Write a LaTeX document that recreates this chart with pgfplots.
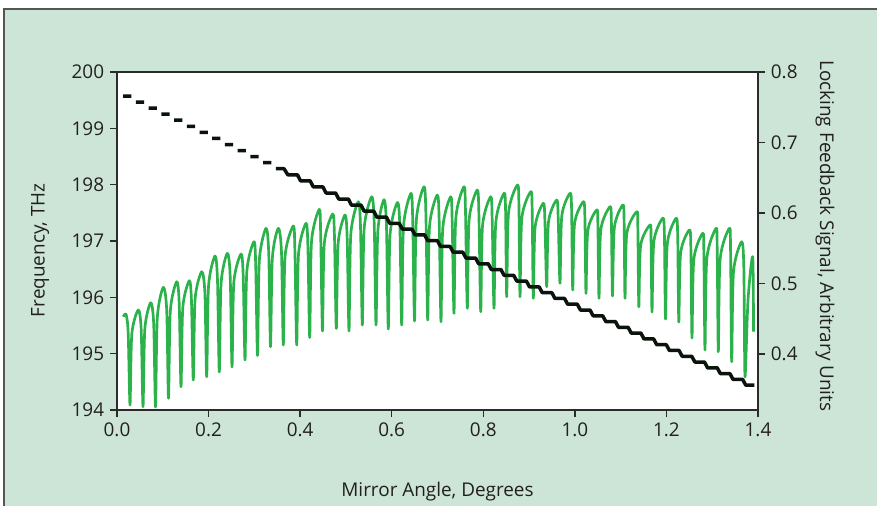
\documentclass[border=0pt]{standalone}
\usepackage{pgfplots}
\pgfplotsset{compat=1.18}
\usepackage{fontspec}
\setmainfont{Open Sans}
\definecolor{panelbg}{HTML}{CCE5D6}
\definecolor{sig}{HTML}{2CB24A}
\definecolor{axgray}{HTML}{2B2B2B}
\definecolor{txt}{HTML}{231F20}
\definecolor{stepblk}{HTML}{0A140C}
\newcommand{\lblfont}{\fontsize{11.35}{13}\selectfont}
\begin{document}
\begin{tikzpicture}
\useasboundingbox (0,0) rectangle (526.2pt,303.6pt);
\fill[panelbg] (2.4pt,0) rectangle (526.2pt,298.2pt);
\draw[axgray!80, line width=0.8pt] (2.4pt,0) -- (2.4pt,298.2pt) -- (526.2pt,298.2pt);
% ---- right axis: locking feedback signal (green) ----
\begin{axis}[
  at={(70.2pt,57.6pt)}, anchor=south west, scale only axis,
  width=384.6pt, height=202.8pt,
  xmin=0, xmax=1.4, ymin=0.3206, ymax=0.8,
  axis background/.style={fill=white},
  axis y line*=right, axis x line=none,
  axis line style={draw=axgray, line width=0.9pt, -},
  tick style={draw=axgray, line width=0.9pt},
  tick align=outside, major tick length=4.2pt,
  ytick={0.4,0.5,0.6,0.7,0.8},
  yticklabels={0.4,0.5,0.6,0.7,0.8},
  ticklabel style={font=\lblfont, text=txt},
  ylabel={Locking Feedback Signal, Arbitrary Units},
  ylabel style={font=\lblfont, text=txt, at={(axis description cs:1.1045,0.515)}, anchor=center, rotate=180},
]
\addplot[sig, line width=1.6pt, line join=round, smooth, tension=0.45] coordinates {
(0.0138,0.4529) (0.0197,0.4563) (0.0244,0.4306)
(0.0284,0.3277) (0.0324,0.4287) (0.0465,0.4624) (0.0528,0.4350)
(0.0568,0.3252) (0.0608,0.4359) (0.0736,0.4728) (0.0801,0.4432)
(0.0841,0.3248) (0.0881,0.4522) (0.1011,0.4946) (0.1085,0.4631)
(0.1125,0.3372) (0.1165,0.4613) (0.1304,0.5026) (0.1358,0.4728)
(0.1398,0.3536) (0.1438,0.4664) (0.1579,0.5040) (0.1626,0.4758)
(0.1666,0.3631) (0.1706,0.4783) (0.1850,0.5167) (0.1919,0.4869)
(0.1959,0.3678) (0.1999,0.4962) (0.2140,0.5390) (0.2194,0.5061)
(0.2234,0.3745) (0.2274,0.5007) (0.2409,0.5428) (0.2472,0.5106)
(0.2512,0.3816) (0.2552,0.5018) (0.2708,0.5418) (0.2756,0.5117)
(0.2796,0.3915) (0.2836,0.5174) (0.2992,0.5593) (0.3029,0.5270)
(0.3069,0.3979) (0.3109,0.5332) (0.3254,0.5783) (0.3313,0.5447)
(0.3353,0.4104) (0.3393,0.5363) (0.3523,0.5783) (0.3592,0.5452)
(0.3632,0.4128) (0.3672,0.5394) (0.3851,0.5816) (0.3885,0.5478)
(0.3925,0.4128) (0.3965,0.5423) (0.4128,0.5854) (0.4169,0.5530)
(0.4209,0.4234) (0.4249,0.5598) (0.4418,0.6052) (0.4448,0.5707)
(0.4488,0.4326) (0.4528,0.5571) (0.4711,0.5986) (0.4750,0.5661)
(0.4790,0.4362) (0.4830,0.5570) (0.4980,0.5972) (0.5027,0.5643)
(0.5067,0.4326) (0.5107,0.5702) (0.5270,0.6160) (0.5318,0.5810)
(0.5358,0.4411) (0.5398,0.5776) (0.5563,0.6231) (0.5617,0.5867)
(0.5657,0.4411) (0.5697,0.5745) (0.5831,0.6189) (0.5885,0.5822)
(0.5925,0.4355) (0.5965,0.5701) (0.6126,0.6149) (0.6178,0.5801)
(0.6218,0.4411) (0.6258,0.5812) (0.6421,0.6279) (0.6458,0.5917)
(0.6498,0.4468) (0.6538,0.5897) (0.6705,0.6373) (0.6746,0.5995)
(0.6786,0.4482) (0.6826,0.5812) (0.6996,0.6255) (0.7036,0.5896)
(0.7076,0.4458) (0.7116,0.5788) (0.7288,0.6231) (0.7320,0.5900)
(0.7360,0.4577) (0.7400,0.5924) (0.7579,0.6373) (0.7611,0.6028)
(0.7651,0.4648) (0.7691,0.5907) (0.7869,0.6326) (0.7904,0.5981)
(0.7944,0.4600) (0.7984,0.5823) (0.8162,0.6231) (0.8194,0.5914)
(0.8234,0.4648) (0.8274,0.5871) (0.8452,0.6279) (0.8486,0.6059)
(0.8511,0.4813) (0.8551,0.6001) (0.8743,0.6397) (0.8777,0.6159)
(0.8802,0.4813) (0.8842,0.5930) (0.9035,0.6302) (0.9067,0.6075)
(0.9092,0.4790) (0.9132,0.5801) (0.9311,0.6138) (0.9345,0.5901)
(0.9385,0.4955) (0.9425,0.5877) (0.9603,0.6184) (0.9635,0.5948)
(0.9675,0.5003) (0.9715,0.5960) (0.9894,0.6279) (0.9928,0.6073)
(0.9953,0.4908) (0.9993,0.5847) (1.0184,0.6160) (1.0218,0.5965)
(1.0243,0.4861) (1.0283,0.5748) (1.0477,0.6043) (1.0502,0.5855)
(1.0527,0.4790) (1.0567,0.5764) (1.0767,0.6089) (1.0797,0.5899)
(1.0822,0.4823) (1.0862,0.5791) (1.1045,0.6113) (1.1075,0.5915)
(1.1095,0.4790) (1.1135,0.5711) (1.1351,0.6018) (1.1375,0.5816)
(1.1397,0.4671) (1.1437,0.5540) (1.1641,0.5830) (1.1663,0.5645)
(1.1685,0.4596) (1.1725,0.5593) (1.1918,0.5925) (1.1955,0.5711)
(1.1980,0.4496) (1.2020,0.5568) (1.2209,0.5925) (1.2245,0.5704)
(1.2270,0.4454) (1.2310,0.5433) (1.2500,0.5759) (1.2533,0.5529)
(1.2558,0.4227) (1.2598,0.5341) (1.2792,0.5712) (1.2817,0.5464)
(1.2842,0.4057) (1.2882,0.5352) (1.3083,0.5783) (1.3108,0.5521)
(1.3133,0.4033) (1.3173,0.5346) (1.3373,0.5783) (1.3400,0.5499)
(1.3425,0.3891) (1.3465,0.5168) (1.3644,0.5593) (1.3691,0.5210)
(1.3716,0.3678) (1.3782,0.4766) (1.3884,0.5380) (1.3902,0.4316)
};
\end{axis}
% ---- left axis: frequency (black steps) ----
\begin{axis}[
  at={(70.2pt,57.6pt)}, anchor=south west, scale only axis,
  width=384.6pt, height=202.8pt,
  xmin=0, xmax=1.4, ymin=194, ymax=200,
  axis line style={draw=axgray, line width=0.9pt},
  tick style={draw=axgray, line width=0.9pt},
  tick align=outside, major tick length=4.2pt,
  xtick pos=bottom, ytick pos=left,
  xtick={0,0.2,0.4,0.6,0.8,1.0,1.2,1.4},
  xticklabels={0.0,0.2,0.4,0.6,0.8,1.0,1.2,1.4},
  ytick={194,195,196,197,198,199,200},
  yticklabels={194,195,196,197,198,199,200},
  ticklabel style={font=\lblfont, text=txt},
  xlabel={Mirror Angle, Degrees},
  xlabel style={font=\lblfont, text=txt, at={(axis description cs:0.5,-0.24)}, anchor=center},
  ylabel={Frequency, THz},
  ylabel style={font=\lblfont, text=txt, at={(axis description cs:-0.12,0.473)}, anchor=center},
  unbounded coords=jump,
]
\addplot[stepblk, line width=2.1pt, line join=round] coordinates {
(0.0135,199.574) (0.0315,199.574) (0.0364,nan)
(0.0413,199.466) (0.0593,199.466) (0.0640,nan)
(0.0691,199.359) (0.0871,199.359) (0.0920,nan)
(0.0968,199.251) (0.1148,199.251) (0.1200,nan)
(0.1246,199.144) (0.1426,199.144) (0.1480,nan)
(0.1524,199.036) (0.1704,199.036) (0.1750,nan)
(0.1802,198.928) (0.1982,198.928) (0.2030,nan)
(0.2080,198.821) (0.2260,198.821) (0.2310,nan)
(0.2357,198.713) (0.2537,198.713) (0.2590,nan)
(0.2635,198.606) (0.2815,198.606) (0.2860,nan)
(0.2913,198.498) (0.3093,198.498) (0.3140,nan)
(0.3191,198.390) (0.3371,198.390) (0.3420,nan)
(0.3469,198.283) (0.3649,198.283)
(0.3731,198.175) (0.3941,198.175)
(0.4009,198.068) (0.4219,198.068)
(0.4287,197.960) (0.4497,197.960)
(0.4565,197.852) (0.4775,197.852)
(0.4843,197.745) (0.5053,197.745)
(0.5120,197.637) (0.5330,197.637)
(0.5398,197.530) (0.5608,197.530)
(0.5676,197.422) (0.5886,197.422)
(0.5954,197.314) (0.6164,197.314)
(0.6232,197.211) (0.6442,197.211)
(0.6509,197.109) (0.6719,197.109)
(0.6787,197.006) (0.6997,197.006)
(0.7065,196.904) (0.7275,196.904)
(0.7343,196.801) (0.7553,196.801)
(0.7621,196.698) (0.7831,196.698)
(0.7898,196.596) (0.8108,196.596)
(0.8176,196.493) (0.8386,196.493)
(0.8454,196.391) (0.8664,196.391)
(0.8732,196.288) (0.8942,196.288)
(0.9010,196.185) (0.9220,196.185)
(0.9287,196.083) (0.9497,196.083)
(0.9565,195.980) (0.9775,195.980)
(0.9843,195.878) (1.0053,195.878)
(1.0121,195.775) (1.0331,195.775)
(1.0399,195.672) (1.0609,195.672)
(1.0676,195.570) (1.0886,195.570)
(1.0954,195.467) (1.1164,195.467)
(1.1232,195.365) (1.1442,195.365)
(1.1510,195.262) (1.1720,195.262)
(1.1788,195.159) (1.1998,195.159)
(1.2065,195.057) (1.2275,195.057)
(1.2343,194.954) (1.2553,194.954)
(1.2621,194.852) (1.2831,194.852)
(1.2899,194.749) (1.3109,194.749)
(1.3177,194.646) (1.3387,194.646)
(1.3454,194.544) (1.3664,194.544)
(1.3732,194.441) (1.3920,194.441)
};
\end{axis}
\end{tikzpicture}
\end{document}
